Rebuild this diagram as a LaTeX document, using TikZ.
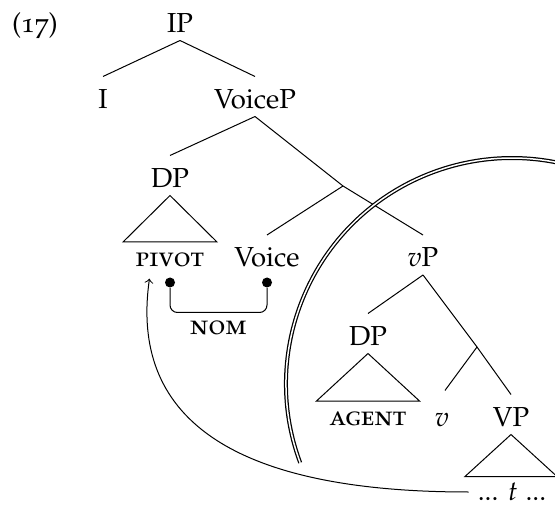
\documentclass[tikz,border=0pt]{standalone}
\usepackage[T1]{fontenc}
\usepackage[sc,osf]{mathpazo}

\begin{document}
\begin{tikzpicture}[font=\fontsize{11pt}{13.6pt}\selectfont,
  tn/.style={inner sep=1pt,text height=11.6pt,text depth=2pt},
  dot/.style={circle,fill,inner sep=0pt,minimum size=4pt},
  ring/.style={double,double distance=.6pt,line width=.5pt}]

  \useasboundingbox (0,0) rectangle (222pt,-202.8pt);

  \node[tn] (ex) at (14pt,-8.2pt) {(17)};
  \node[tn] (IP) at (72pt,-8.2pt) {IP};
  \node[tn] (I) at (41.2pt,-38.6pt) {I};
  \node[tn] (VoiceP) at (102pt,-38.6pt) {VoiceP};
  \node[tn] (DP1) at (68pt,-70.2pt) {DP};
  \coordinate (J1) at (137.2pt,-74.4pt);
  \node[tn] (pivot) at (68pt,-102pt) {\textsc{pivot}};
  \node[tn] (Voice) at (106.8pt,-102pt) {Voice};
  \node[tn] (vP) at (169.2pt,-102pt) {\textit{v}P};
  \node[tn] (DP2) at (147.2pt,-133.4pt) {DP};
  \node[tn] (agent) at (147.2pt,-165.4pt) {\textsc{agent}};
  \coordinate (J2) at (190.8pt,-138.8pt);
  \node[tn] (v) at (176.8pt,-165.8pt) {\textit{v}};
  \node[tn] (VP) at (204.4pt,-165.8pt) {VP};
  \node[inner xsep=3.5pt,inner ysep=.5pt] (t) at (204.8pt,-196.8pt) {... \textit{t} ...};
  \node[dot] (d1) at (68pt,-113pt) {};
  \node[dot] (d2) at (106.8pt,-113pt) {};

  \path
    (IP.south) edge (I.north)
               edge (VoiceP.north)
    (VoiceP.south) edge (DP1.north)
                   edge (J1)
    (J1) edge (Voice.north)
         edge (vP.north)
    (vP.south) edge (DP2.north)
               edge (J2)
    (J2) edge[shorten >=2pt] (v.north)
         edge (VP.north);

  % triangles
  \draw (DP1.south) -- ++(-18.8pt,-18.6pt) -- ++(37.6pt,0) -- cycle;
  \draw (DP2.south) -- ++(-20.6pt,-19pt) -- ++(41.2pt,0) -- cycle;
  \draw (VP.south) -- ++(-18.4pt,-16.8pt) -- ++(36.8pt,0) -- cycle;

  % case link and movement
  \draw[rounded corners=3pt] (d1) -- ++(0,-12pt) -| node[below,pos=.25] {\textsc{nom}} (d2);
  \draw[->,shorten >=1.5pt] (t) .. controls +(-114pt,0) and +(-8pt,-56pt) .. (pivot.-135);

  % phase boundary
  \draw[ring] (204.8pt,-153.6pt) ++(200.4:90.4pt) arc[start angle=200.4,end angle=75,radius=90.4pt];
\end{tikzpicture}
\end{document}
